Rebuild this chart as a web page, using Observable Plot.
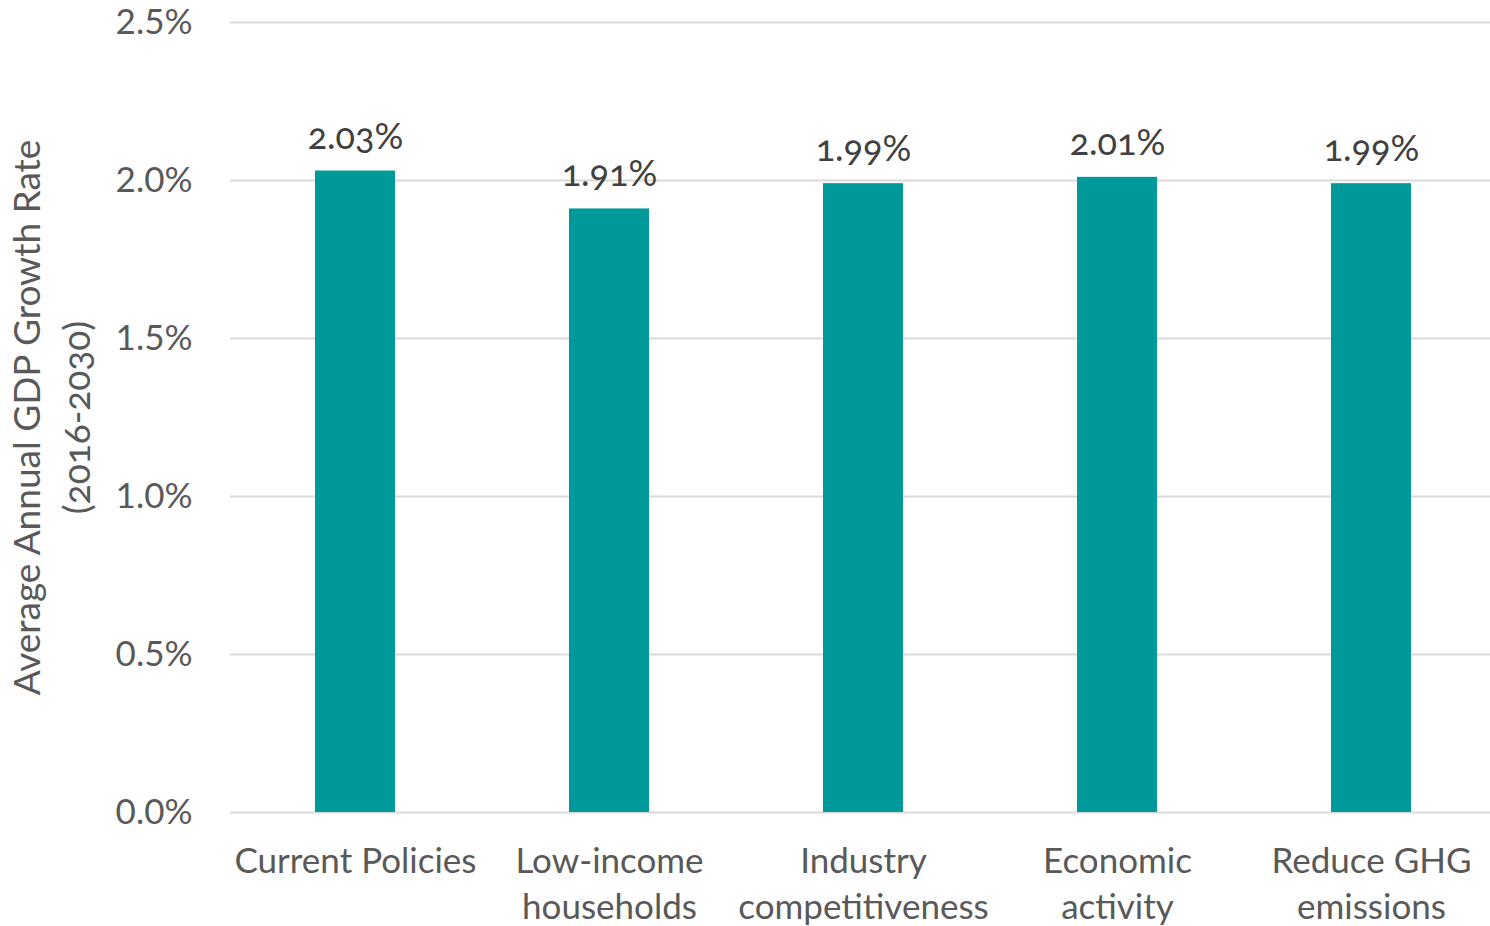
<!DOCTYPE html>
<html>
<head>
<meta charset="utf-8">
<script src="https://cdn.jsdelivr.net/npm/d3@7"></script>
<script src="https://cdn.jsdelivr.net/npm/@observablehq/plot@0.6"></script>
<style>
  html, body { margin: 0; padding: 0; background: #fff; }
  #chart svg { font-family: Lato, "Open Sans", sans-serif; font-variant-numeric: oldstyle-nums; }
</style>
</head>
<body>
<div id="chart"></div>
<script>
const categories = ["Current Policies", "Low-income\nhouseholds", "Industry\ncompetitiveness", "Economic\nactivity", "Reduce GHG\nemissions"];
const values = [2.03, 1.91, 1.99, 2.01, 1.99];
const yTicks = [0, 0.5, 1.0, 1.5, 2.0, 2.5];
const yTitle = "Average Annual GDP Growth Rate";
const ySubtitle = "(2016-2030)";

const data = categories.map((c, i) => ({category: c, value: values[i]}));

const chart = Plot.plot({
  width: 1490,
  height: 926,
  marginLeft: 230,
  marginRight: 0,
  marginTop: 22,
  marginBottom: 114,
  style: {fontSize: "32px", color: "#595959", background: "#fff"},
  x: {domain: categories, range: [228, 1499], paddingInner: 0.685, paddingOuter: 0.34, label: null},
  y: {domain: [0, 2.5], ticks: yTicks, label: null},
  marks: [
    Plot.gridY(yTicks, {stroke: "#d9d9d9", strokeOpacity: 1, strokeWidth: 2}),
    Plot.axisY(yTicks, {tickSize: 0, tickPadding: 38, tickFormat: d => d.toFixed(1) + "%", fontSize: 35, fill: "#595959"}),
    Plot.axisX({tickSize: 0, tickPadding: 28, fontSize: 35, fill: "#595959", lineHeight: 1.31}),
    Plot.barY(data, {x: "category", y: "value", fill: "#009999"}),
    Plot.text(data, {x: "category", y: "value", text: d => d.value.toFixed(2) + "%", dy: -34, fontSize: 36, fill: "#404040"}),
    Plot.text([yTitle], {frameAnchor: "left", textAnchor: "middle", text: d => d, rotate: -90, dx: -202, fontSize: 37, fill: "#595959"}),
    Plot.text([ySubtitle], {frameAnchor: "left", textAnchor: "middle", text: d => d, rotate: -90, dx: -152, fontSize: 37, fill: "#595959"})
  ]
});
document.getElementById("chart").appendChild(chart);
</script>
</body>
</html>
